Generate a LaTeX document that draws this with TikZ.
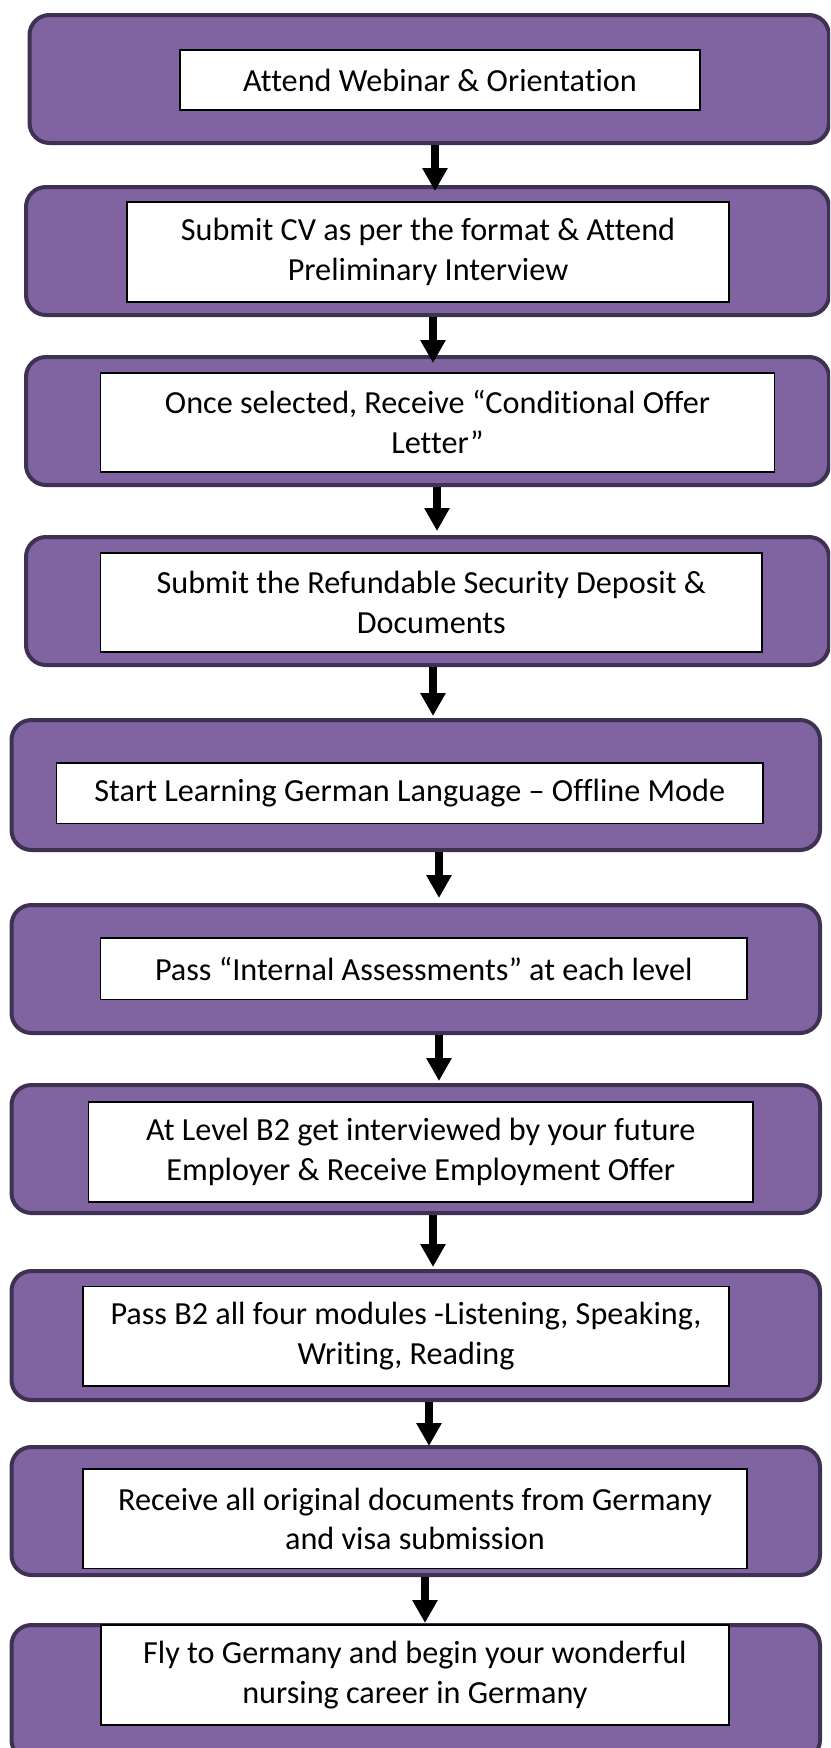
\documentclass[tikz,border=0pt]{standalone}
\usepackage{fontspec}
\setmainfont{Carlito}[Ligatures={NoCommon}]
\usetikzlibrary{arrows.meta}
\definecolor{boxfill}{HTML}{8064A2}
\definecolor{boxline}{HTML}{3F3151}
\tikzset{
  outerbox/.style={draw=boxline, line width=4pt, fill=boxfill, rounded corners=20pt, inner sep=0pt, minimum height=128pt},
  innerbox/.style={draw=black, line width=1.6pt, fill=white, inner sep=0pt, align=center, font=\fontsize{32.2}{39.5}\selectfont},
  arr/.style={draw=black, line width=8pt, -{Triangle[width=24pt,length=23pt]}},
}
\begin{document}
\begin{tikzpicture}[x=1pt,y=-1pt]
\useasboundingbox (0,0) rectangle (830,1748);
\clip (0,0) rectangle (830,1748);
% outer boxes
\node[outerbox, minimum width=799.5pt] (o1) at (429.25,79) {};
\node[outerbox, minimum width=803pt] (o2) at (427.5,251) {};
\node[outerbox, minimum width=803pt] (o3) at (427.5,421) {};
\node[outerbox, minimum width=803pt] (o4) at (427.5,601) {};
\node[outerbox, minimum width=808.5pt, minimum height=130pt] (o5) at (415.75,785) {};
\node[outerbox, minimum width=808.5pt] (o6) at (415.75,969) {};
\node[outerbox, minimum width=808.5pt] (o7) at (415.75,1149) {};
\node[outerbox, minimum width=808.5pt, minimum height=129pt] (o8) at (415.75,1335.5) {};
\node[outerbox, minimum width=808.5pt] (o9) at (415.75,1511) {};
\node[outerbox, minimum width=808.5pt, minimum height=135pt] (o10) at (415.75,1692.5) {};
% inner boxes
\node[innerbox, minimum width=520pt, minimum height=60pt] (i1) at (440,80) {Attend Webinar \& Orientation};
\node[innerbox, minimum width=602pt, minimum height=100pt] (i2) at (428,252) {Submit CV as per the format \& Attend\\Preliminary Interview};
\node[innerbox, minimum width=674pt, minimum height=99pt] (i3) at (437.5,422.2) {Once selected, Receive “Conditional Offer\\Letter”};
\node[innerbox, minimum width=661.4pt, minimum height=99pt] (i4) at (431.3,602.2) {Submit the Refundable Security Deposit \&\\Documents};
\node[innerbox, minimum width=706.4pt, minimum height=60.6pt] (i5) at (409.8,793) {Start Learning German Language – Offline Mode};
\node[innerbox, minimum width=646.4pt, minimum height=61.3pt] (i6) at (423.8,968.7) {Pass “Internal Assessments” at each level};
\node[innerbox, minimum width=664.6pt, minimum height=100pt] (i7) at (420.7,1151.7) {At Level B2 get interviewed by your future\\Employer \& Receive Employment Offer};
\node[innerbox, minimum width=646pt, minimum height=99.3pt] (i8) at (406,1336.3) {Pass B2 all four modules -Listening, Speaking,\\Writing, Reading};
\node[innerbox, minimum width=664pt, minimum height=99.3pt] (i9) at (415,1518.7) {Receive all original documents from Germany\\and visa submission};
\node[innerbox, minimum width=628.3pt, minimum height=100pt] (i10) at (414.9,1675) {Fly to Germany and begin your wonderful\\nursing career in Germany};
% arrows
\draw[arr] ([xshift=5.75pt]o1.south) -- ([xshift=7.5pt,yshift=-6pt]o2.north);
\draw[arr] ([xshift=5.5pt]o2.south) -- ([xshift=5.5pt,yshift=-8pt]o3.north);
\draw[arr] ([xshift=9.5pt]o3.south) -- ([xshift=9.5pt,yshift=4pt]o4.north);
\draw[arr] ([xshift=5.5pt]o4.south) -- ([xshift=17.25pt,yshift=2pt]o5.north);
\draw[arr] ([xshift=23.25pt]o5.south) -- ([xshift=23.25pt,yshift=5pt]o6.north);
\draw[arr] ([xshift=23.25pt]o6.south) -- ([xshift=23.25pt,yshift=2pt]o7.north);
\draw[arr] ([xshift=17.25pt]o7.south) -- ([xshift=17.25pt,yshift=2pt]o8.north);
\draw[arr] ([xshift=13.25pt]o8.south) -- ([xshift=13.25pt,yshift=-1pt]o9.north);
\draw[arr] ([xshift=9.25pt]o9.south) -- ([xshift=9.25pt]o10.north);
\end{tikzpicture}
\end{document}
